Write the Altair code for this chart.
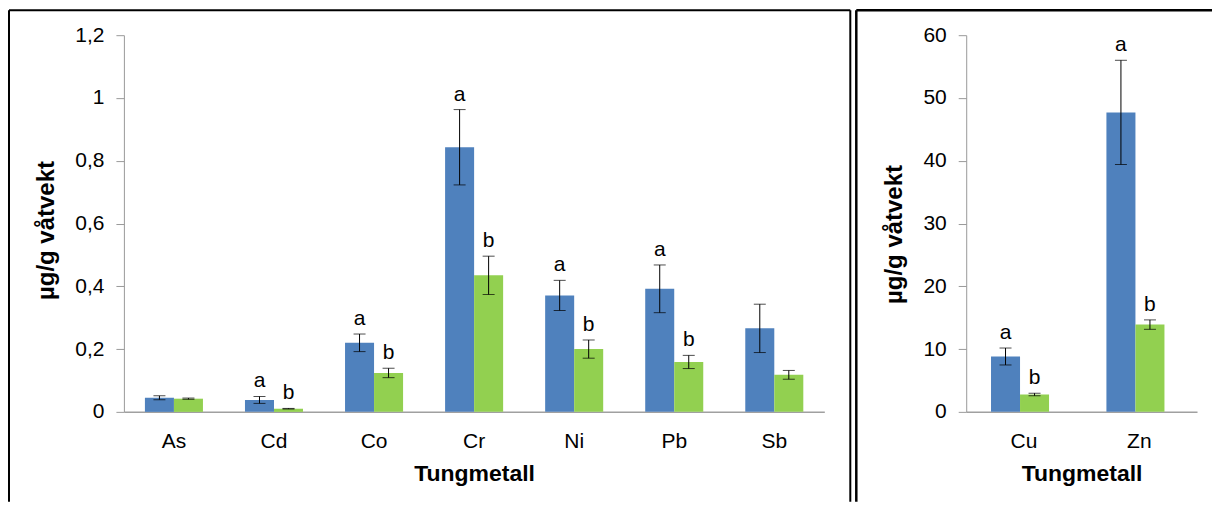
import altair as alt
import pandas as pd

FONT = "Liberation Sans"

# ---- data ----
metals_small = ["As", "Cd", "Co", "Cr", "Ni", "Pb", "Sb"]
blue_small = [0.045, 0.038, 0.220, 0.843, 0.371, 0.392, 0.266]
blue_small_err = [0.006, 0.011, 0.028, 0.120, 0.048, 0.076, 0.077]
green_small = [0.042, 0.010, 0.124, 0.435, 0.200, 0.159, 0.118]
green_small_err = [0.002, 0.001, 0.015, 0.061, 0.029, 0.021, 0.014]
blue_small_lab = ["", "a", "a", "a", "a", "a", ""]
green_small_lab = ["", "b", "b", "b", "b", "b", ""]

metals_big = ["Cu", "Zn"]
blue_big = [8.82, 47.7]
blue_big_err = [1.35, 8.3]
green_big = [2.77, 13.9]
green_big_err = [0.20, 0.75]
blue_big_lab = ["a", "a"]
green_big_lab = ["b", "b"]

groups = ["serie1", "serie2"]
colors = ["#4F81BD", "#92D050"]

small_ticks = [0, 0.2, 0.4, 0.6, 0.8, 1.0, 1.2]
big_ticks = [0, 10, 20, 30, 40, 50, 60]

y_title = "µg/g våtvekt"
x_title = "Tungmetall"


def make_df(metals, bv, be, bl, gv, ge, gl):
    rows = []
    for i, m in enumerate(metals):
        rows.append(dict(metal=m, group=groups[0], value=bv[i], lo=bv[i] - be[i], hi=bv[i] + be[i], label=bl[i]))
        rows.append(dict(metal=m, group=groups[1], value=gv[i], lo=gv[i] - ge[i], hi=gv[i] + ge[i], label=gl[i]))
    return pd.DataFrame(rows)


df_small = make_df(metals_small, blue_small, blue_small_err, blue_small_lab,
                   green_small, green_small_err, green_small_lab)
df_big = make_df(metals_big, blue_big, blue_big_err, blue_big_lab,
                 green_big, green_big_err, green_big_lab)

label_expr = "replace(format(datum.value, '~g'), '.', ',')"


def panel(df, metals, ymax, yticks, width, pad, border, right_edge, title_y):
    xenc = alt.X("metal:N", sort=metals,
                 scale=alt.Scale(paddingInner=pad, paddingOuter=pad / 2),
                 axis=alt.Axis(title=x_title, ticks=False, labelAngle=0, labelPadding=19,
                               titlePadding=11, titleFontSize=23,
                               domainColor="#A0A0A0", domainWidth=1.5))
    xoff = alt.XOffset("group:N", sort=groups)
    yscale = alt.Scale(domain=[0, ymax], nice=False)
    yaxis = alt.Axis(title=y_title, values=yticks, labelExpr=label_expr, grid=False,
                     tickSize=8, labelPadding=12, titlePadding=16, titleY=title_y,
                     titleFontSize=24, domainColor="#9A9A9A", tickColor="#9A9A9A")

    base = alt.Chart(df).encode(x=xenc, xOffset=xoff)
    bars = base.mark_bar().encode(
        y=alt.Y("value:Q", scale=yscale, axis=yaxis),
        color=alt.Color("group:N", scale=alt.Scale(domain=groups, range=colors), legend=None),
    )
    err = base.mark_rule(color="black", strokeWidth=1).encode(y="lo:Q", y2="hi:Q")
    cap_hi = base.mark_tick(color="black", thickness=1, size=12).encode(y="hi:Q")
    cap_lo = base.mark_tick(color="black", thickness=1, size=12).encode(y="lo:Q")
    txt = base.mark_text(baseline="alphabetic", dy=-9, fontSize=21, font=FONT, color="black").encode(
        y="hi:Q", text="label:N")

    bx0, bx1, by0, by1, bw = border
    one = alt.Chart(pd.DataFrame({"k": [0]}))
    top = one.mark_rule(color="black", strokeWidth=bw).encode(
        x=alt.value(bx0), x2=alt.value(bx1), y=alt.value(by0))
    left = one.mark_rule(color="black", strokeWidth=bw).encode(
        x=alt.value(bx0), y=alt.value(by0), y2=alt.value(by1))
    layers = [bars, err, cap_hi, cap_lo, txt, top, left]
    if right_edge:
        right = one.mark_rule(color="black", strokeWidth=bw).encode(
            x=alt.value(bx1), y=alt.value(by0), y2=alt.value(by1))
        layers.append(right)
    return alt.layer(*layers).properties(width=width, height=377)


left_panel = panel(df_small, metals_small, 1.2, small_ticks, 701, 0.42,
                   (-115, 727, -25, 467, 2), True, 195)
right_panel = panel(df_big, metals_big, 60, big_ticks, 231, 0.43,
                    (-110, 246, -25, 467, 2.5), False, 199)

chart = alt.hconcat(left_panel, right_panel, spacing=3).properties(padding=0).configure_view(
    stroke=None
).configure_axis(
    labelFont=FONT, titleFont=FONT, labelFontSize=21,
    labelColor="black", titleColor="black", titleFontWeight="bold"
)

chart.save("out.html", embed_options={"renderer": "svg", "actions": False})
